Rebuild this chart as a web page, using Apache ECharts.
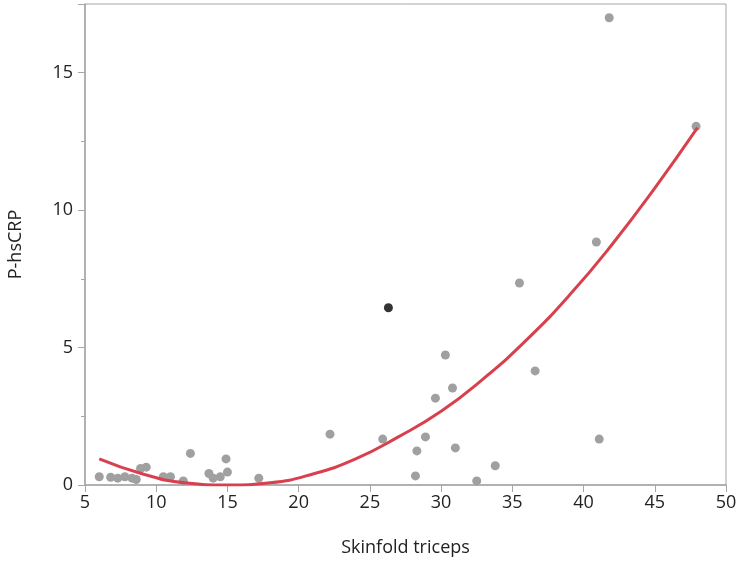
<!DOCTYPE html>
<html>
<head>
<meta charset="utf-8">
<script src="https://cdn.jsdelivr.net/npm/echarts@6/dist/echarts.min.js"></script>
<style>html,body{margin:0;padding:0;background:#fff}#c{width:739px;height:561px}</style>
</head>
<body>
<div id="c"></div>
<script>
// Gray points: [Skinfold triceps, P-hsCRP]
const grayX = [6.0, 6.8, 7.3, 7.8, 8.3, 8.6, 8.9, 9.3, 10.5, 11.0, 11.9, 12.4, 13.7, 14.0, 14.5, 14.9, 15.0, 17.2,
  22.2, 25.9, 28.2, 28.3, 28.9, 29.6, 30.3, 30.8, 31.0, 32.5, 33.8, 35.5, 36.6, 40.9, 41.1, 41.8, 47.9];
const grayY = [0.3, 0.28, 0.25, 0.3, 0.25, 0.2, 0.6, 0.65, 0.3, 0.3, 0.15, 1.15, 0.42, 0.25, 0.3, 0.95, 0.47, 0.25,
  1.85, 1.67, 0.33, 1.24, 1.75, 3.16, 4.73, 3.53, 1.35, 0.15, 0.7, 7.35, 4.15, 8.84, 1.67, 17.0, 13.05];
// Highlighted point
const blackX = [26.3];
const blackY = [6.45];
// Fitted curve
const fitX = [6, 9, 12, 15, 18, 21, 24, 27, 30, 33, 36, 39, 42, 45, 48];
const fitY = [0.95, 0.41, 0.08, 0.0, 0.08, 0.4, 0.95, 1.75, 2.68, 3.88, 5.28, 6.9, 8.75, 10.8, 13.0];
const xTicks = [5, 10, 15, 20, 25, 30, 35, 40, 45, 50];
const yTicks = [0, 5, 10, 15];

const zip = (a, b) => a.map((v, i) => [v, b[i]]);
const chart = echarts.init(document.getElementById('c'), null, {renderer: 'canvas'});
const axisColor = '#a6a6a6';
const labelColor = '#222';
const font = 'Open Sans, Noto Sans, sans-serif';
const fs = 18;
chart.setOption({
  animation: false,
  grid: {left: 85, right: 13, top: 4, bottom: 76, show: true, borderColor: axisColor, borderWidth: 1,
    containLabel: false, outerBoundsMode: 'none'},
  xAxis: {
    type: 'value', min: 5, max: 50, interval: 5,
    name: 'Skinfold triceps', nameLocation: 'middle', nameGap: 54,
    nameTextStyle: {fontFamily: font, fontSize: fs, color: labelColor},
    axisLine: {show: true, lineStyle: {color: axisColor, width: 1.5}},
    axisTick: {show: true, length: 7, lineStyle: {color: axisColor}},
    axisLabel: {fontFamily: font, fontSize: fs, color: labelColor, margin: 9,
      formatter: v => xTicks.includes(v) ? String(v) : ''},
    splitLine: {show: false}
  },
  yAxis: {
    type: 'value', min: 0, max: 17.5, interval: 5,
    name: 'P-hsCRP', nameLocation: 'middle', nameGap: 60, nameRotate: 90,
    nameTextStyle: {fontFamily: font, fontSize: fs, color: labelColor},
    axisLine: {show: true, lineStyle: {color: axisColor, width: 1.5}},
    axisTick: {show: true, length: 7, lineStyle: {color: axisColor}},
    minorTick: {show: true, splitNumber: 2, length: 4, lineStyle: {color: axisColor}},
    axisLabel: {fontFamily: font, fontSize: fs, color: labelColor, margin: 12, showMaxLabel: false,
      formatter: v => yTicks.includes(v) ? String(v) : ''},
    splitLine: {show: false}
  },
  series: [
    {type: 'scatter', data: zip(grayX, grayY), symbolSize: 9, itemStyle: {color: '#a0a0a0', opacity: 1}, z: 2},
    {type: 'scatter', data: zip(blackX, blackY), symbolSize: 9, itemStyle: {color: '#000'}, z: 2},
    {type: 'line', data: zip(fitX, fitY), smooth: 0.5, showSymbol: false, symbol: 'none',
      lineStyle: {color: '#d9404e', width: 3}, z: 3}
  ]
});
</script>
</body>
</html>
